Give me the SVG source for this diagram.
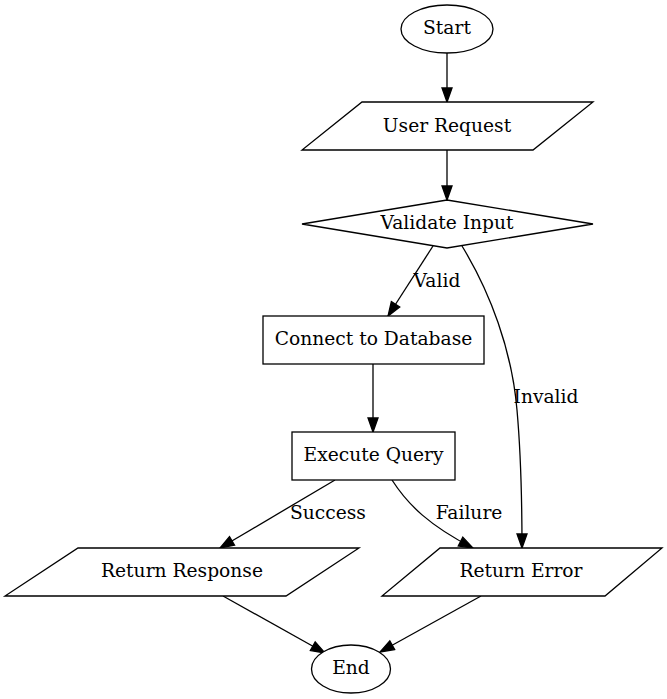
<svg xmlns="http://www.w3.org/2000/svg" width="667" height="699" viewBox="0 0 667 699">
<style>
  .node { fill: #ffffff; stroke: #000000; stroke-width: 1.3; }
  .edge { fill: none; stroke: #000000; stroke-width: 1.3; }
  text { font-family: "DejaVu Serif", serif; font-size: 18.67px; fill: #000000; }
  .c { text-anchor: middle; }
</style>
<defs>
  <marker id="arr" markerUnits="userSpaceOnUse" markerWidth="14" markerHeight="10" refX="14" refY="5" orient="auto" overflow="visible">
    <path d="M0,0 L14,5 L0,10 z" fill="#000000" stroke="#000000" stroke-width="1.3"/>
  </marker>
</defs>
<rect x="0" y="0" width="667" height="699" fill="#ffffff"/>
<g id="connectors">
  <path class="edge" marker-end="url(#arr)" d="M447,53 L447,102"/>
  <path class="edge" marker-end="url(#arr)" d="M447,150 L447,200"/>
  <path class="edge" marker-end="url(#arr)" d="M433,246 L388,316"/>
  <path class="edge" marker-end="url(#arr)" d="M462,246 C490,292 512,350 517,410 C521,455 522,510 522,548"/>
  <path class="edge" marker-end="url(#arr)" d="M373,364 L373,432"/>
  <path class="edge" marker-end="url(#arr)" d="M335,480 L220,548"/>
  <path class="edge" marker-end="url(#arr)" d="M392,480 C408,505 430,526 473,548"/>
  <path class="edge" marker-end="url(#arr)" d="M223,596 L325,653"/>
  <path class="edge" marker-end="url(#arr)" d="M481,596 L380,652"/>
  <text x="437" y="287" class="c">Valid</text>
  <text x="546" y="403" class="c">Invalid</text>
  <text x="328" y="519" class="c">Success</text>
  <text x="469" y="519" class="c">Failure</text>
</g>
<g id="start">
  <ellipse class="node" cx="447" cy="29" rx="46" ry="24"/>
  <text x="447" y="34" class="c">Start</text>
</g>
<g id="user_request">
  <polygon class="node" points="362,102 593,102 533,150 302,150"/>
  <text x="447" y="132" class="c">User Request</text>
</g>
<g id="validate_input">
  <polygon class="node" points="447,200 593,224 447,248 302,224"/>
  <text x="447" y="229" class="c">Validate Input</text>
</g>
<g id="connect_db">
  <rect class="node" x="263" y="316" width="221" height="48"/>
  <text x="373.5" y="345" class="c">Connect to Database</text>
</g>
<g id="execute_query">
  <rect class="node" x="292" y="432" width="163" height="48"/>
  <text x="373.5" y="461" class="c">Execute Query</text>
</g>
<g id="return_response">
  <polygon class="node" points="78,548 359,548 286,596 5,596"/>
  <text x="182" y="577" class="c">Return Response</text>
</g>
<g id="return_error">
  <polygon class="node" points="440,548 662,548 605,596 382,596"/>
  <text x="521" y="577" class="c">Return Error</text>
</g>
<g id="end">
  <ellipse class="node" cx="351" cy="669" rx="39.5" ry="24"/>
  <text x="351" y="674" class="c">End</text>
</g>
</svg>
